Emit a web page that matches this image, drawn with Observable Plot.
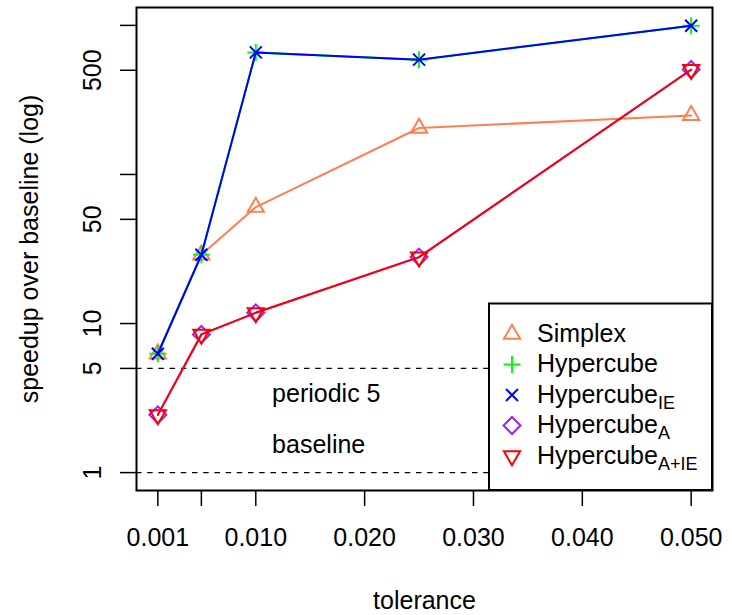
<!DOCTYPE html>
<html><head><meta charset="utf-8">
<script src="https://cdn.jsdelivr.net/npm/d3@7"></script>
<script src="https://cdn.jsdelivr.net/npm/@observablehq/plot@0.6"></script>
<style>body{margin:0;background:#fff}</style>
</head><body><div id="chart"></div>
<script>
// ---- data ----
const tolerance = [0.001, 0.005, 0.010, 0.025, 0.050];
const simplex = [6.27, 28.9, 60.4, 205, 249];
const hypercube = [6.27, 28.9, 659, 589, 995];
const hypercubeIE = [6.27, 28.9, 659, 589, 995];
const hypercubeA = [2.44, 8.45, 11.8, 27.9, 506];
const hypercubeAIE = [2.44, 8.45, 11.8, 27.9, 504];
const seriesNames = ["Simplex", "Hypercube", "HypercubeIE", "HypercubeA", "HypercubeA+IE"];
const legendBase = ["Simplex", "Hypercube", "Hypercube", "Hypercube", "Hypercube"];
const legendSub = ["", "", "IE", "A", "A+IE"];
const seriesColors = ["#FF7F50", "#00FF00", "#0000FF", "#A020F0", "#FF0000"];
const xTicks = [0.001, 0.005, 0.010, 0.020, 0.030, 0.040, 0.050];
const xTickLabels = ["0.001", "", "0.010", "0.020", "0.030", "0.040", "0.050"];
const yTicks = [1, 5, 10, 50, 100, 500, 1000];
const yTickLabels = ["1", "5", "10", "50", "", "500", ""];
const refLines = [5, 1];
const refLabels = ["periodic 5", "baseline"];

const seriesValues = [simplex, hypercube, hypercubeIE, hypercubeA, hypercubeAIE];
const rows = seriesNames.flatMap((s, k) => tolerance.map((t, i) => ({series: s, tolerance: t, value: seriesValues[k][i]})));

// ---- R-like plotting symbols ----
const K = Math.SQRT2;
const makeSym = fn => ({draw(c, size) { fn(c, Math.sqrt(size / Math.PI)); }});
const symbols = [
  makeSym((c, a) => { c.moveTo(0, -1.555 * a); c.lineTo(1.347 * a, 0.778 * a); c.lineTo(-1.347 * a, 0.778 * a); c.closePath(); }),
  makeSym((c, a) => { const r = K * a; c.moveTo(-r, 0); c.lineTo(r, 0); c.moveTo(0, -r); c.lineTo(0, r); }),
  makeSym((c, a) => { c.moveTo(-a, -a); c.lineTo(a, a); c.moveTo(-a, a); c.lineTo(a, -a); }),
  makeSym((c, a) => { const r = K * a; c.moveTo(0, -r); c.lineTo(r, 0); c.lineTo(0, r); c.lineTo(-r, 0); c.closePath(); }),
  makeSym((c, a) => { c.moveTo(0, 1.555 * a); c.lineTo(1.347 * a, -0.778 * a); c.lineTo(-1.347 * a, -0.778 * a); c.closePath(); })
];
const R = 6;

const xPad = 0.04 * (0.050 - 0.001);
const FONT = "'Liberation Sans', Arial, Helvetica, sans-serif";

const seriesMarks = seriesNames.flatMap((s, k) => {
  const d = rows.filter(r => r.series === s);
  return [
    Plot.line(d, {x: "tolerance", y: "value", stroke: seriesColors[k], strokeWidth: 2}),
    Plot.dot(d, {x: "tolerance", y: "value", r: R, symbol: symbols[k], stroke: seriesColors[k], fill: "none", strokeWidth: 2})
  ];
});

const chart = Plot.plot({
  width: 732, height: 615,
  marginLeft: 136, marginRight: 20, marginTop: 7, marginBottom: 125,
  style: {fontFamily: FONT, fontSize: "25px", background: "white", color: "black"},
  x: {type: "linear", domain: [0.001 - xPad, 0.050 + xPad]},
  y: {type: "log", domain: [Math.pow(10, -0.12), Math.pow(10, 3.12)]},
  marks: [
    Plot.ruleY(refLines, {stroke: "black", strokeWidth: 1.4, strokeDasharray: "5.5,5.7"}),
    Plot.text([refLabels[0]], {x: () => 0.0115, y: () => refLines[0], text: d => d, textAnchor: "start", lineAnchor: "bottom", dy: 34, fontSize: 25}),
    Plot.text([refLabels[1]], {x: () => 0.0115, y: () => refLines[1], text: d => d, textAnchor: "start", lineAnchor: "bottom", dy: -20, fontSize: 25}),
    ...seriesMarks,
    Plot.axisX({ticks: xTicks, tickFormat: d => xTickLabels[xTicks.indexOf(d)], tickSize: 16, tickPadding: 22, strokeWidth: 1.5, label: null, fontSize: 25}),
    Plot.axisY({ticks: yTicks, tickFormat: () => "", tickSize: 16, strokeWidth: 1.5, label: null}),
    Plot.text(yTicks, {y: d => d, text: (d, i) => yTickLabels[i], frameAnchor: "left", dx: -36, rotate: -90, textAnchor: "middle", lineAnchor: "bottom", fontSize: 25}),
    Plot.text(["speedup over baseline (log)"], {text: d => d, frameAnchor: "left", dx: -98.5, rotate: -90, textAnchor: "middle", lineAnchor: "bottom", fontSize: 25}),
    Plot.text(["tolerance"], {text: d => d, frameAnchor: "bottom", dy: 118, textAnchor: "middle", lineAnchor: "bottom", fontSize: 25}),
    Plot.frame({stroke: "black", strokeWidth: 2})
  ]
});

document.getElementById("chart").appendChild(chart);

// ---- legend (inside plot, bottom-right) ----
const svg = d3.select(chart);
const leg = svg.append("g").attr("font-family", FONT).attr("font-size", 25).attr("text-anchor", "start");
leg.append("rect").attr("x", 489).attr("y", 303.5).attr("width", 223).attr("height", 186.5)
  .attr("fill", "white").attr("stroke", "black").attr("stroke-width", 2);
seriesNames.forEach((name, i) => {
  const cy = 334 + 30.5 * i;
  const p = d3.path();
  symbols[i].draw(p, Math.PI * R * R);
  leg.append("path").attr("transform", `translate(512,${cy})`).attr("d", p.toString())
    .attr("fill", "none").attr("stroke", seriesColors[i]).attr("stroke-width", 2);
  const t = leg.append("text").attr("x", 537).attr("y", cy + 7.7).attr("fill", "black").attr("text-anchor", "start");
  t.append("tspan").text(legendBase[i]);
  if (legendSub[i]) t.append("tspan").attr("dy", 6).attr("font-size", 18).text(legendSub[i]);
});
</script>
</body></html>
